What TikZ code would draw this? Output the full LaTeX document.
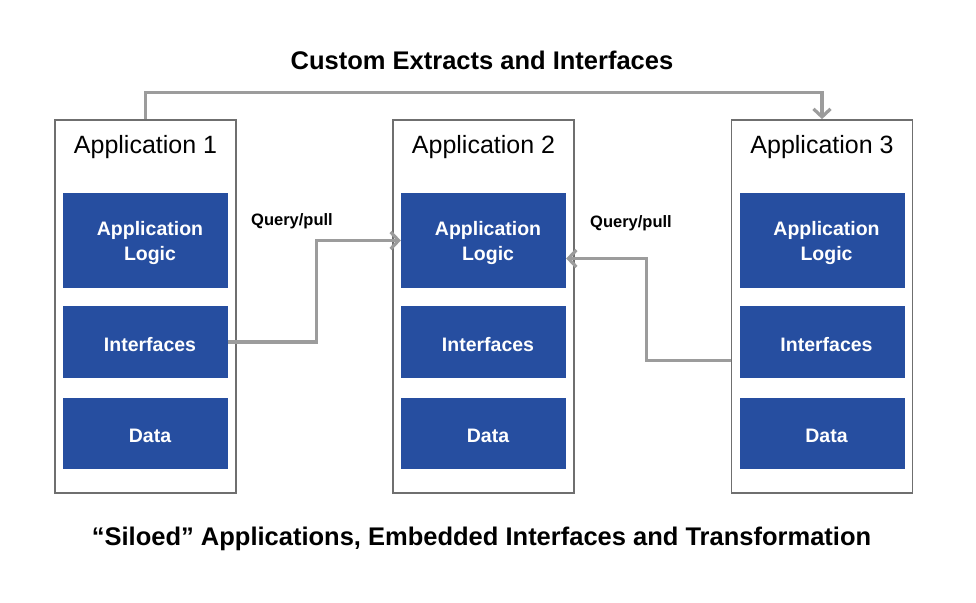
\documentclass[tikz,border=0pt]{standalone}
\usepackage{fontspec}
\setmainfont{Liberation Sans}
\usetikzlibrary{arrows.meta}
\definecolor{appblue}{HTML}{264EA0}
\definecolor{framegray}{HTML}{6F6F6F}
\definecolor{linkgray}{HTML}{9C9C9C}
\tikzset{>={Straight Barb[length=8pt,width=17pt]}}
\tikzset{
    appframe/.style={draw=framegray, line width=1.8pt, minimum width=181pt, minimum height=373pt, inner sep=0pt},
    layer/.style={fill=appblue, minimum width=165pt, inner sep=0pt,
        label={[text=white, font=\fontsize{19.5}{25}\selectfont\bfseries, align=center, xshift=4.5pt, yshift=-2.5pt]center:#1}},
    link/.style={->, draw=linkgray, line width=3.2pt},
    heading/.style={font=\fontsize{25.5}{30}\selectfont\bfseries}
}

\begin{document}
\begin{tikzpicture}[x=1pt,y=-1pt]
    \useasboundingbox (0,0) rectangle (976,602);
    \node[heading] (top) at (482,60) {Custom Extracts and Interfaces};
    \node[heading] (bottom) at (481.5,539) {“Siloed” Applications, Embedded Interfaces and Transformation};
    \foreach \i/\x in {1/145.5,2/483.5,3/822} {
        \node[appframe] (app\i) at (\x,306.5) {};
        \node[anchor=base, font=\fontsize{25}{30}\selectfont] (name\i) at (\x,153) {Application \i};
        \node[layer={Application\\Logic}, minimum height=95pt] (logic\i) at (\x,240.5) {};
        \node[layer=Interfaces, minimum height=72pt] (if\i) at (\x,342) {};
        \node[layer=Data, minimum height=71pt] (data\i) at (\x,433.5) {};
    }
    \draw[link] (app1.north) -- ++(0,-27) -| (app3.north);
    \draw[link] (if1.east) -- ++(88,0) |- (logic2.west);
    \draw[link] ([yshift=-54pt]app3.west) -- ++(-84,0) |- ([yshift=-18pt]logic2.east);
    \node[font=\fontsize{16.5}{20}\selectfont\bfseries] (pull1) at (292,221) {Query/pull};
    \node[font=\fontsize{16.5}{20}\selectfont\bfseries] (pull2) at (631,223) {Query/pull};
\end{tikzpicture}
\end{document}
